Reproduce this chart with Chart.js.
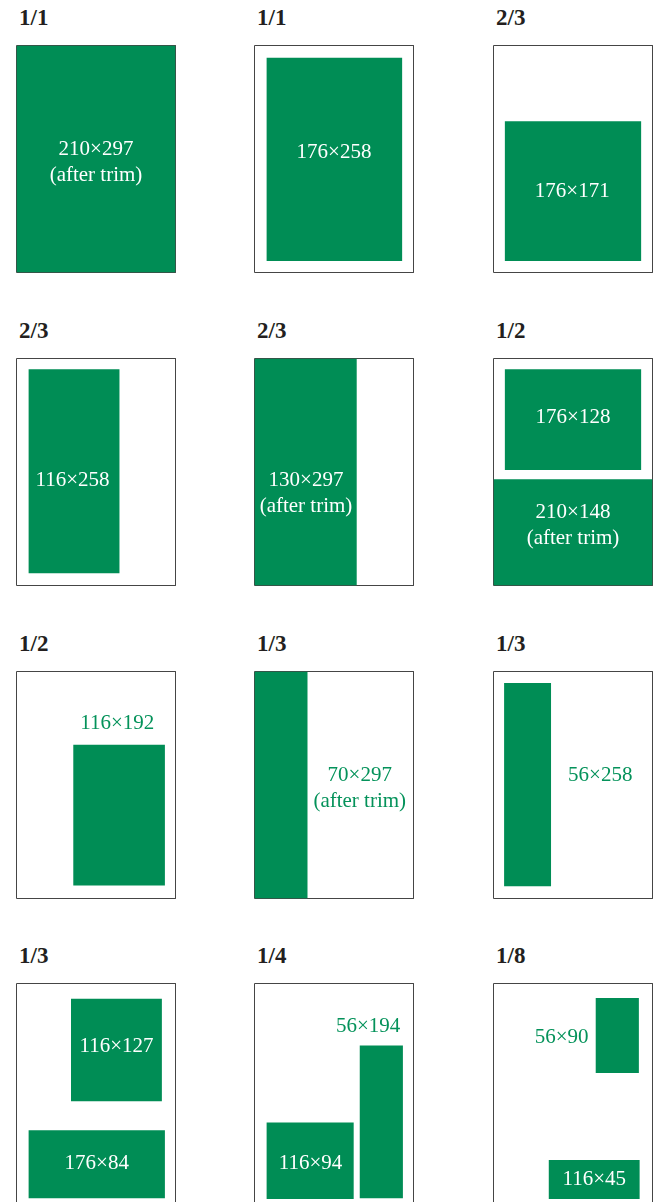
<!DOCTYPE html>
<html>
<head>
<meta charset="utf-8">
<script src="https://cdn.jsdelivr.net/npm/chart.js@4.4.1/dist/chart.umd.min.js"></script>
<style>
    html, body { margin: 0; padding: 0; background: #fff; overflow: hidden; }
    body { width: 654px; height: 1202px; position: relative; }
    .panel-title {
        position: absolute;
        font: bold 23px "Liberation Serif", serif;
        line-height: 23px;
        color: #231f20;
    }
    canvas { position: absolute; }
</style>
</head>
<body>
<script>
// Page plans, all values in mm on a 210 x 297 page (y measured from the top)
const pageW = 210;
const pageH = 297;

const panelTitles = ['1/1', '1/1', '2/3', '2/3', '2/3', '1/2', '1/2', '1/3', '1/3', '1/3', '1/4', '1/8'];

// green blocks per panel: [x0, y0, x1, y1]
const panelBlocks = [
    [[0, 0, 210, 297]],
    [[16, 16, 195, 282]],
    [[15, 99, 195, 282]],
    [[16, 14, 136, 281]],
    [[0, 0, 135, 297]],
    [[15, 14, 195, 146], [0, 158, 210, 297]],
    [[75, 96, 196, 280]],
    [[0, 0, 70, 297]],
    [[14, 15, 76, 281]],
    [[72, 20, 192, 154], [16, 192, 196, 281]],
    [[16, 182, 131, 282], [139, 81, 196, 281]],
    [[135, 19, 192, 117], [73, 231, 193, 282]]
];

// size labels per panel: [text lines, x, y, on green block?]
const panelLabels = [
    [[['210×297', '(after trim)'], 105, 153, true]],
    [[['176×258'], 105, 140, true]],
    [[['176×171'], 104, 191, true]],
    [[['116×258'], 74, 160, true]],
    [[['130×297', '(after trim)'], 68, 177, true]],
    [[['176×128'], 105, 77, true], [['210×148', '(after trim)'], 105, 219, true]],
    [[['116×192'], 133, 68, false]],
    [[['70×297', '(after trim)'], 139, 153, false]],
    [[['56×258'], 141, 136, false]],
    [[['116×127'], 132, 82, true], [['176×84'], 106, 236, true]],
    [[['116×94'], 74, 235, true], [['56×194'], 150, 56, false]],
    [[['56×90'], 90, 71, false], [['116×45'], 133, 257, true]]
];

const GREEN = '#008d55';
const GREEN_TEXT = '#04925a';
const BORDER = '#454545';

const colLeft = [16, 254, 493];
const rowTop = [45, 358, 671, 983];
const canvasW = 160;
const canvasH = 228;

function corners(b) {
    return [
        { x: b[0], y: b[1] },
        { x: b[2], y: b[1] },
        { x: b[2], y: b[3] },
        { x: b[0], y: b[3] },
        { x: b[0], y: b[1] }
    ];
}

function labelPlugin(items) {
    return {
        id: 'pageLabels',
        afterDatasetsDraw(chart) {
            const ctx = chart.ctx;
            const xs = chart.scales.x;
            const ys = chart.scales.y;
            ctx.save();
            ctx.font = '21px "Liberation Serif", serif';
            ctx.textAlign = 'center';
            ctx.textBaseline = 'middle';
            items.forEach(item => {
                const lines = item[0];
                const px = xs.getPixelForValue(item[1]);
                const py = ys.getPixelForValue(item[2]);
                ctx.fillStyle = item[3] ? '#ffffff' : GREEN_TEXT;
                const lh = 26;
                const start = py - (lines.length - 1) * lh / 2;
                lines.forEach((t, i) => ctx.fillText(t, px, start + i * lh));
            });
            ctx.restore();
        }
    };
}

panelTitles.forEach((title, i) => {
    const col = i % 3;
    const row = Math.floor(i / 3);
    const left = colLeft[col];
    const top = rowTop[row];

    const t = document.createElement('div');
    t.className = 'panel-title';
    t.textContent = title;
    t.style.left = (left + 3) + 'px';
    t.style.top = (top - 39) + 'px';
    document.body.appendChild(t);

    const canvas = document.createElement('canvas');
    canvas.width = canvasW;
    canvas.height = canvasH;
    canvas.style.left = left + 'px';
    canvas.style.top = top + 'px';
    canvas.style.width = canvasW + 'px';
    canvas.style.height = canvasH + 'px';
    document.body.appendChild(canvas);

    const datasets = panelBlocks[i].map(b => ({
        data: corners(b),
        fill: 'shape',
        backgroundColor: GREEN,
        borderColor: GREEN,
        borderWidth: 0,
        pointRadius: 0,
        tension: 0
    }));

    // the page outline
    datasets.push({
        data: corners([0, 0, pageW, pageH]),
        fill: false,
        borderColor: BORDER,
        borderWidth: 1,
        pointRadius: 0,
        tension: 0,
        clip: false
    });

    new Chart(canvas, {
        type: 'line',
        data: { datasets: datasets },
        options: {
            responsive: false,
            animation: false,
            events: [],
            layout: { padding: 0.5 },
            scales: {
                x: { type: 'linear', display: false, min: 0, max: pageW },
                y: { type: 'linear', display: false, min: 0, max: pageH, reverse: true }
            },
            plugins: {
                legend: { display: false },
                tooltip: { enabled: false }
            }
        },
        plugins: [labelPlugin(panelLabels[i])]
    });
});
</script>
</body>
</html>
